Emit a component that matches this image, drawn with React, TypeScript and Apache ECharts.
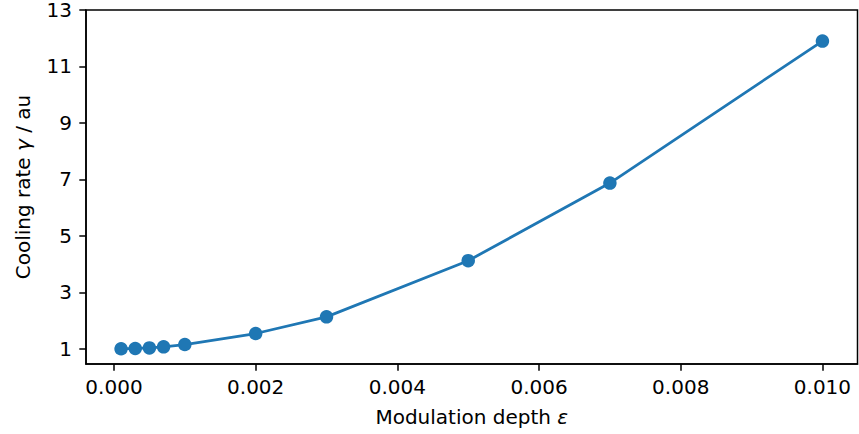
import React, { useEffect, useRef } from "react";
import * as echarts from "echarts";

const depths = [0.0001, 0.0003, 0.0005, 0.0007, 0.001, 0.002, 0.003, 0.005, 0.007, 0.01];
const rates = [1.0, 1.01, 1.03, 1.07, 1.15, 1.54, 2.13, 4.12, 6.87, 11.9];
const xTicks = [0, 0.002, 0.004, 0.006, 0.008, 0.01];
const yTicks = [1, 3, 5, 7, 9, 11, 13];

const FONT = "DejaVu Sans";
const FS = 20;

export default function App() {
  const ref = useRef<HTMLDivElement>(null);
  useEffect(() => {
    document.body.style.margin = "0";
    const chart = echarts.init(ref.current!, null, { renderer: "svg" });
    const axisLine = { show: true, onZero: false, lineStyle: { color: "#000", width: 1.5 } };
    const nameStyle = {
      fontFamily: FONT,
      fontSize: FS,
      color: "#000",
      rich: { i: { fontFamily: FONT, fontSize: FS, fontStyle: "italic", color: "#000" } },
    };
    chart.setOption({
      animation: false,
      grid: {
        left: 86,
        top: 10,
        right: 1.5,
        bottom: 70,
        show: true,
        borderColor: "#000",
        borderWidth: 1.5,
        backgroundColor: "transparent",
      },
      xAxis: {
        type: "value",
        min: -0.000395,
        max: 0.010495,
        splitLine: { show: false },
        axisLine,
        axisTick: { show: true, length: 6.7, inside: false, customValues: xTicks, lineStyle: { color: "#000", width: 1.5 } },
        axisLabel: {
          customValues: xTicks,
          margin: 13,
          fontFamily: FONT,
          fontSize: FS,
          color: "#000",
          formatter: (v: number) => v.toFixed(3),
        },
        name: "Modulation depth {i|ε}",
        nameLocation: "middle",
        nameGap: 43,
        nameTextStyle: nameStyle,
      },
      yAxis: {
        type: "value",
        min: 0.46,
        max: 13,
        splitLine: { show: false },
        axisLine,
        axisTick: { show: true, length: 6.7, inside: false, customValues: yTicks, lineStyle: { color: "#000", width: 1.5 } },
        axisLabel: {
          customValues: yTicks,
          margin: 14,
          fontFamily: FONT,
          fontSize: FS,
          lineHeight: 14,
          padding: [6, 0, 0, 0],
          color: "#000",
        },
        name: "Cooling rate {i|γ} / au",
        nameLocation: "middle",
        nameGap: 53,
        nameRotate: 90,
        nameTextStyle: nameStyle,
      },
      series: [
        {
          type: "line",
          data: depths.map((d, i) => [d, rates[i]]),
          symbol: "circle",
          symbolSize: 13.5,
          showAllSymbol: true,
          itemStyle: { color: "#1f77b4" },
          lineStyle: { color: "#1f77b4", width: 2.8 },
        },
      ],
    });
    return () => chart.dispose();
  }, []);
  return <div ref={ref} style={{ width: 859, height: 434 }} />;
}
